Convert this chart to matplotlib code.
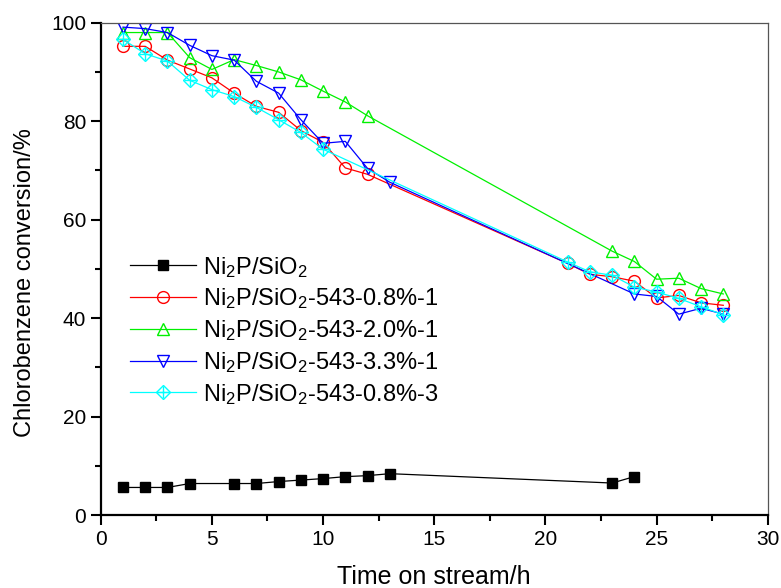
import matplotlib
matplotlib.use("Agg")
import matplotlib.pyplot as plt
from matplotlib.ticker import MultipleLocator
from matplotlib.legend_handler import HandlerTuple

plt.rcParams["font.family"] = ["Liberation Sans", "DejaVu Sans"]
plt.rcParams["mathtext.default"] = "regular"

# Time on stream (h) and chlorobenzene conversion (%) for each catalyst
t_base = [1, 2, 3, 4, 6, 7, 8, 9, 10, 11, 12, 13, 23, 24]
y_base = [5.6, 5.6, 5.6, 6.4, 6.4, 6.4, 6.8, 7.1, 7.4, 7.8, 8.0, 8.4, 6.5, 7.8]

t_08_1 = [1, 2, 3, 4, 5, 6, 7, 8, 9, 10, 11, 12, 21, 22, 23, 24, 25, 26, 27, 28]
y_08_1 = [95.2, 95.2, 92.4, 90.6, 88.8, 85.7, 83.0, 81.8, 78.1, 75.7, 70.5, 69.2,
          51.1, 48.9, 48.4, 47.5, 44.1, 44.6, 43.1, 42.6]

t_20_1 = [1, 2, 3, 4, 5, 6, 7, 8, 9, 10, 11, 12, 23, 24, 25, 26, 27, 28]
y_20_1 = [98.0, 98.0, 98.0, 92.9, 90.5, 92.5, 91.3, 90.0, 88.4, 86.1, 83.9, 81.1,
          53.6, 51.5, 47.9, 48.1, 46.0, 44.9]

t_33_1 = [1, 2, 3, 4, 5, 6, 7, 8, 9, 10, 11, 12, 13, 24, 25, 26, 27, 28]
y_33_1 = [99.1, 98.8, 98.0, 95.4, 93.3, 92.4, 88.1, 85.7, 80.3, 75.5, 75.9, 70.4,
          67.6, 44.9, 44.4, 40.8, 42.0, 40.8]

t_08_3 = [1, 2, 3, 4, 5, 6, 7, 8, 9, 10, 21, 22, 23, 24, 25, 26, 27, 28]
y_08_3 = [96.6, 93.7, 92.2, 88.3, 86.4, 85.0, 82.8, 80.3, 77.7, 74.3,
          51.4, 49.4, 48.7, 46.3, 45.3, 44.0, 42.3, 40.7]

labels = [
    "Ni$_2$P/SiO$_2$",
    "Ni$_2$P/SiO$_2$-543-0.8%-1",
    "Ni$_2$P/SiO$_2$-543-2.0%-1",
    "Ni$_2$P/SiO$_2$-543-3.3%-1",
    "Ni$_2$P/SiO$_2$-543-0.8%-3",
]

fig = plt.figure(figsize=(7.81, 5.88), dpi=100)
ax = fig.add_axes([0.129, 0.1241, 0.854, 0.8373])

lw = 0.9
h0, = ax.plot(t_base, y_base, color="black", lw=lw, marker="s", ms=7.5,
              mfc="black", mec="black")
h1, = ax.plot(t_08_1, y_08_1, color="#ff0000", lw=lw, marker="o", ms=8.5,
              mfc="none", mec="#ff0000", mew=1.0)
h2, = ax.plot(t_20_1, y_20_1, color="#00f000", lw=lw, marker="^", ms=9,
              mfc="none", mec="#00f000", mew=1.0)
h3, = ax.plot(t_33_1, y_33_1, color="#0000ff", lw=lw, marker="v", ms=9,
              mfc="none", mec="#0000ff", mew=1.0)
h4, = ax.plot(t_08_3, y_08_3, color="#00ffff", lw=lw, marker="D", ms=7.5,
              mfc="none", mec="#00ffff", mew=1.0)
# crossed diamond: overlay a plus inside each diamond
h4p, = ax.plot(t_08_3, y_08_3, linestyle="none", marker="+", ms=8,
               mec="#00ffff", mew=1.0)

ax.set_xlim(0, 30)
ax.set_ylim(0, 100)
ax.xaxis.set_major_locator(MultipleLocator(5))
ax.xaxis.set_minor_locator(MultipleLocator(2.5))
ax.yaxis.set_major_locator(MultipleLocator(20))
ax.yaxis.set_minor_locator(MultipleLocator(10))
ax.tick_params(which="major", direction="out", length=7, width=1.5, labelsize=15,
               top=False, right=False)
ax.tick_params(which="minor", direction="out", length=4, width=1.5,
               top=False, right=False)

for side in ("left", "bottom"):
    ax.spines[side].set_linewidth(1.6)
    ax.spines[side].set_color("black")
for side in ("top", "right"):
    ax.spines[side].set_linewidth(0.9)
    ax.spines[side].set_color("#555555")

ax.set_xlabel("Time on stream/h", fontsize=18, labelpad=12)
ax.set_ylabel("Chlorobenzene conversion/%", fontsize=17)
ax.yaxis.set_label_coords(-0.097, 0.473)

leg = ax.legend([h0, h1, h2, h3, (h4, h4p)], labels,
                handler_map={tuple: HandlerTuple(ndivide=1)},
                loc="upper left", bbox_to_anchor=(0.03, 0.548), frameon=False,
                fontsize=17, handlelength=2.8, handletextpad=0.3,
                labelspacing=0.29, borderaxespad=0)

fig.savefig("out.png", dpi=100)
